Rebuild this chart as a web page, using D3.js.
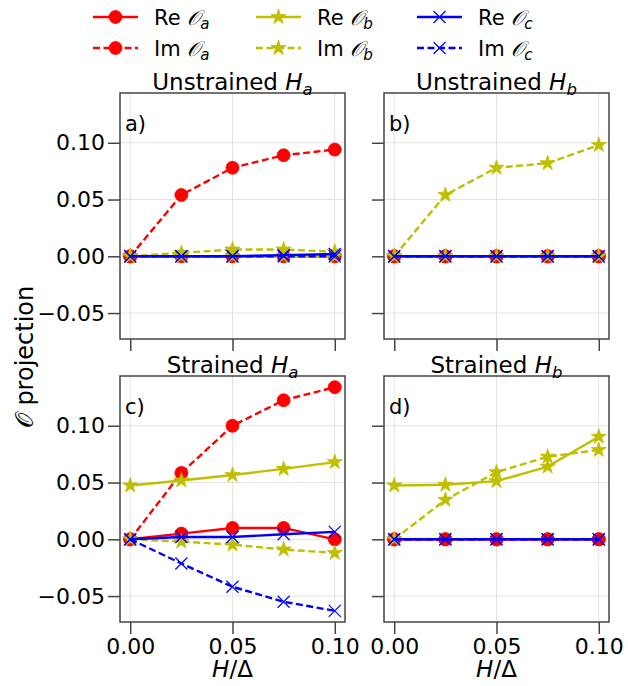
<!DOCTYPE html>
<html>
<head>
<meta charset="utf-8">
<script src="https://cdn.jsdelivr.net/npm/d3@7"></script>
<style>
  body { margin: 0; background: #fff; }
  text { font-family: "DejaVu Sans", sans-serif; fill: #000; }
</style>
</head>
<body>
<svg id="chart" width="628" height="686"></svg>
<script>
// field values H/Delta (shared x for every panel)
const fieldH = [0, 0.025, 0.05, 0.075, 0.1];

// a) unstrained H_a
const a_ReOa = [0, 0, 0, 0, 0];
const a_ImOa = [0, 0.054, 0.078, 0.089, 0.094];
const a_ReOb = [0, 0, 0, 0, 0];
const a_ImOb = [0, 0.003, 0.006, 0.006, 0.004];
const a_ReOc = [0, 0, 0, 0.001, 0.002];
const a_ImOc = [0, 0, 0, 0, 0];

// b) unstrained H_b
const b_ReOa = [0, 0, 0, 0, 0];
const b_ImOa = [0, 0, 0, 0, 0];
const b_ReOb = [0, 0, 0, 0, 0];
const b_ImOb = [0, 0.054, 0.078, 0.082, 0.098];
const b_ReOc = [0, 0, 0, 0, 0];
const b_ImOc = [0, 0, 0, 0, 0];

// c) strained H_a
const c_ReOa = [0, 0.005, 0.010, 0.010, 0.0];
const c_ImOa = [0, 0.0585, 0.100, 0.1225, 0.134];
const c_ReOb = [0.0474, 0.0518, 0.0567, 0.062, 0.068];
const c_ImOb = [0, -0.002, -0.0047, -0.009, -0.012];
const c_ReOc = [0, 0.002, 0.002, 0.0045, 0.0065];
const c_ImOc = [0, -0.0213, -0.0418, -0.055, -0.063];

// d) strained H_b
const d_ReOa = [0, 0, 0, 0, 0];
const d_ImOa = [0, 0, 0, 0, 0];
const d_ReOb = [0.0474, 0.048, 0.0512, 0.064, 0.0904];
const d_ImOb = [0, 0.0348, 0.0591, 0.0728, 0.0787];
const d_ReOc = [0, 0, 0, 0, 0];
const d_ImOc = [0, 0, 0, 0, 0];

const xTicks = [0, 0.05, 0.1];
const yTicks = [-0.05, 0, 0.05, 0.1];
const panelTitles = ["Unstrained ", "Unstrained ", "Strained ", "Strained "];
const panelSubs = ["a", "b", "a", "b"];
const panelTags = ["a)", "b)", "c)", "d)"];

// series styling, in plotting order
const series = [
  {part: "Re", sub: "a", color: "#ff0000", dash: null, marker: "circle"},
  {part: "Im", sub: "a", color: "#ff0000", dash: "7,3.5", marker: "circle"},
  {part: "Re", sub: "b", color: "#bfbf00", dash: null, marker: "star"},
  {part: "Im", sub: "b", color: "#bfbf00", dash: "7,3.5", marker: "star"},
  {part: "Re", sub: "c", color: "#0000ff", dash: null, marker: "x"},
  {part: "Im", sub: "c", color: "#0000ff", dash: "7,3.5", marker: "x"}
];

const panels = [
  {x: 120, y: 93,  vals: [a_ReOa, a_ImOa, a_ReOb, a_ImOb, a_ReOc, a_ImOc]},
  {x: 384, y: 93,  vals: [b_ReOa, b_ImOa, b_ReOb, b_ImOb, b_ReOc, b_ImOc]},
  {x: 120, y: 376, vals: [c_ReOa, c_ImOa, c_ReOb, c_ImOb, c_ReOc, c_ImOc]},
  {x: 384, y: 376, vals: [d_ReOa, d_ImOa, d_ReOb, d_ImOb, d_ReOc, d_ImOc]}
];
const pw = 225, ph = 246;

const svg = d3.select("#chart");

// shared y limits with 5% margins (like matplotlib autoscale)
const allVals = panels.flatMap(p => p.vals.flat());
const [yMin, yMax] = d3.extent(allVals);
const yPad = (yMax - yMin) * 0.05;
const xPad = (d3.max(fieldH) - d3.min(fieldH)) * 0.05;

const x = d3.scaleLinear().domain([d3.min(fieldH) - xPad, d3.max(fieldH) + xPad]).range([0, pw]);
const y = d3.scaleLinear().domain([yMin - yPad, yMax + yPad]).range([ph, 0]);

const markerPath = {
  circle: d3.symbol(d3.symbolCircle, Math.PI * 6.5 * 6.5)(),
  star: d3.symbol(d3.symbolStar, 64 / 0.8908)(),
  x: d3.symbol(d3.symbolX, 96)()
};

function drawMarker(g, type, color) {
  const m = g.append("path").attr("d", markerPath[type]);
  if (type === "x") m.attr("fill", "none").attr("stroke", color).attr("stroke-width", 1.2);
  else m.attr("fill", color).attr("stroke", color).attr("stroke-width", 0.8);
  return m;
}

function mathLabel(t, prefix, sub, italicPrefix) {
  // e.g. "Unstrained " + H_a  or  "Re " + O_a
  t.append("tspan").text(prefix);
  t.append("tspan").attr("font-style", "italic").text(italicPrefix);
  t.append("tspan").attr("font-style", "italic").attr("font-size", "72%").attr("dy", "0.28em").text(sub);
}

panels.forEach((p, i) => {
  const g = svg.append("g").attr("transform", `translate(${p.x},${p.y})`);
  const bottomRow = i >= 2;
  const leftCol = i % 2 === 0;

  // grid
  g.append("g").selectAll("line").data(xTicks).join("line")
    .attr("x1", d => x(d)).attr("x2", d => x(d)).attr("y1", 0).attr("y2", ph)
    .attr("stroke", "#dcdcdc").attr("stroke-width", 0.8);
  g.append("g").selectAll("line").data(yTicks).join("line")
    .attr("x1", 0).attr("x2", pw).attr("y1", d => y(d)).attr("y2", d => y(d))
    .attr("stroke", "#dcdcdc").attr("stroke-width", 0.8);

  // axes
  const yAxis = d3.axisLeft(y).tickValues(yTicks).tickSize(12).tickPadding(3)
    .tickFormat(leftCol ? d3.format(".2f") : "");
  const xAxis = d3.axisBottom(x).tickValues(xTicks).tickSize(12).tickPadding(4)
    .tickFormat(bottomRow ? d3.format(".2f") : "");
  const ya = g.append("g").call(yAxis);
  const xa = g.append("g").attr("transform", `translate(0,${ph})`).call(xAxis);
  [ya, xa].forEach(a => {
    a.select(".domain").remove();
    a.selectAll(".tick line").attr("stroke", "#444").attr("stroke-width", 1.5);
    a.selectAll(".tick text").attr("font-size", 22).attr("font-family", "DejaVu Sans").attr("fill", "#000");
  });

  // series
  const clipId = "clip" + i;
  g.append("clipPath").attr("id", clipId).append("rect").attr("width", pw).attr("height", ph);
  const plot = g.append("g").attr("clip-path", `url(#${clipId})`);
  const line = d3.line().x((d, k) => x(fieldH[k])).y(d => y(d));
  series.forEach((s, k) => {
    const vals = p.vals[k];
    plot.append("path").datum(vals)
      .attr("d", line).attr("fill", "none")
      .attr("stroke", s.color).attr("stroke-width", 2.4)
      .attr("stroke-dasharray", s.dash);
    vals.forEach((v, n) => {
      drawMarker(plot, s.marker, s.color)
        .attr("transform", `translate(${x(fieldH[n])},${y(v)})`);
    });
  });

  // frame
  g.append("rect").attr("width", pw).attr("height", ph)
    .attr("fill", "none").attr("stroke", "#444").attr("stroke-width", 1.5);

  // panel tag
  g.append("text").attr("x", 5).attr("y", 38).attr("font-size", 21).text(panelTags[i]);

  // title
  const t = g.append("text").attr("x", pw / 2).attr("y", -3)
    .attr("text-anchor", "middle").attr("font-size", 23);
  mathLabel(t, panelTitles[i], panelSubs[i], "H");

  // x label
  if (bottomRow) {
    const xl = g.append("text").attr("x", pw / 2).attr("y", ph + 55)
      .attr("text-anchor", "middle").attr("font-size", 23);
    xl.append("tspan").attr("font-style", "italic").text("H");
    xl.append("tspan").text("/Δ");
  }
});

// y label
const yl = svg.append("text")
  .attr("transform", `translate(33,357) rotate(-90)`)
  .attr("text-anchor", "middle").attr("font-size", 24);
yl.append("tspan").text("𝒪");
yl.append("tspan").text(" projection");

// legend (3 columns, filled column-wise)
const legX = [93, 256, 417];
const legY = [17, 48];
series.forEach((s, k) => {
  const col = Math.floor(k / 2), row = k % 2;
  const lg = svg.append("g").attr("transform", `translate(${legX[col]},${legY[row]})`);
  lg.append("line").attr("x1", 0).attr("x2", 45).attr("y1", 0).attr("y2", 0)
    .attr("stroke", s.color).attr("stroke-width", 2.4).attr("stroke-dasharray", s.dash);
  drawMarker(lg, s.marker, s.color).attr("transform", "translate(22.5,0)");
  const lt = lg.append("text").attr("x", 61).attr("y", 7.5).attr("font-size", 21);
  mathLabel(lt, s.part + " ", s.sub, "𝒪");
});
</script>
</body>
</html>
